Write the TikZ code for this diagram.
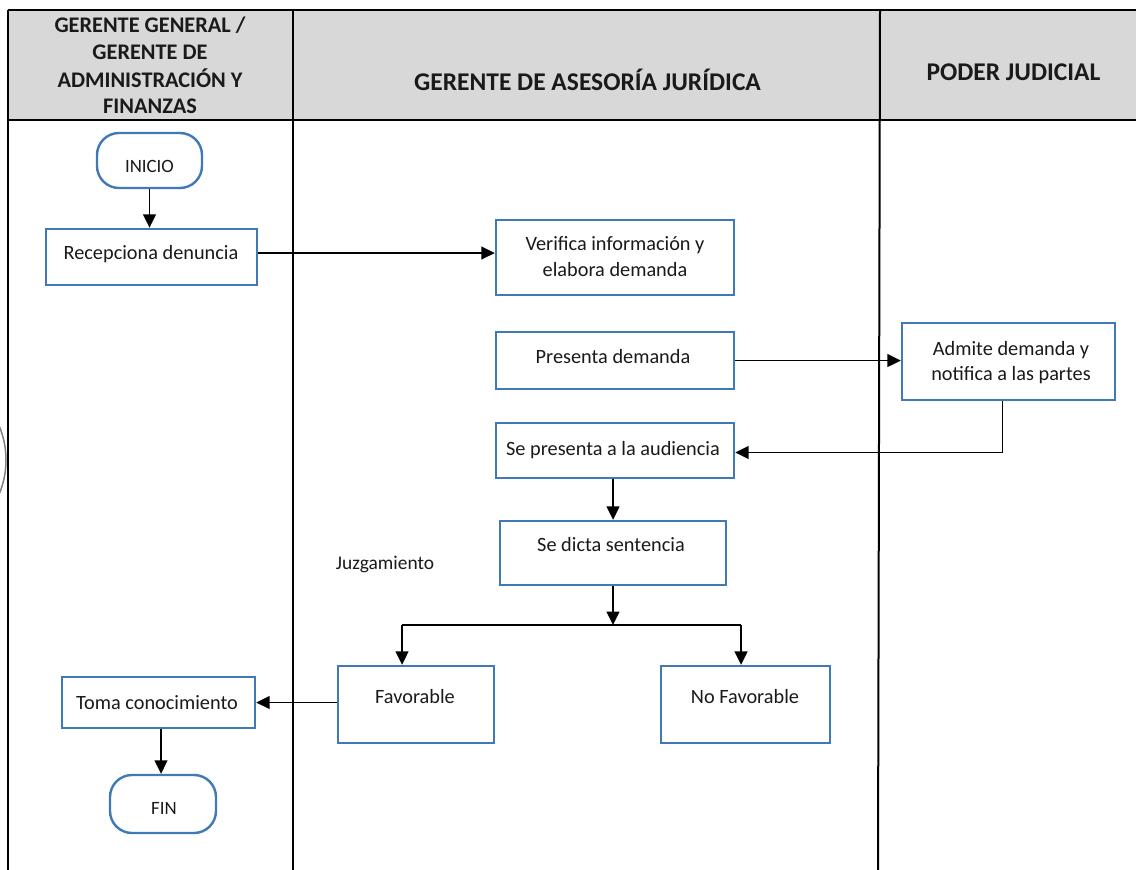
\documentclass[tikz,border=0pt]{standalone}
\usepackage{fontspec}
\setmainfont{Carlito}
\usetikzlibrary{arrows.meta}

\definecolor{boxblue}{HTML}{4079B6}
\definecolor{headgray}{HTML}{D8D8D8}
\definecolor{inkgray}{HTML}{1A1A1A}

\tikzset{
  lane/.style={line width=2pt, draw=black},
  headtxt/.style={font=\bfseries\fontsize{22.3}{27}\selectfont, align=center, text=inkgray, inner sep=0pt, anchor=base},
  bighead/.style={headtxt, font=\bfseries\fontsize{25.5}{30}\selectfont},
  procbox/.style={draw=boxblue, line width=2.4pt, fill=white, inner sep=0pt},
  termbox/.style={procbox, rounded corners=22pt},
  boxtxt/.style={font=\fontsize{20.3}{26}\selectfont, text=inkgray, align=center, inner sep=0pt, anchor=base},
  termtxt/.style={boxtxt, font=\fontsize{18.8}{24}\selectfont},
  conn/.style={line width=1.6pt, draw=black},
  arr/.style={conn, -{Triangle[length=13.5pt, width=13pt]}},
  note/.style={font=\fontsize{19.4}{24}\selectfont, text=inkgray, inner sep=0pt, anchor=base}
}

\begin{document}
\begin{tikzpicture}[x=1pt, y=-1pt]
\useasboundingbox (0,0) rectangle (1136,870);
\fill[white] (0,0) rectangle (1136,870);

% header band and lane dividers
\fill[headgray] (8,10) rectangle (1136,120);
\draw[lane] (8,10) -- (1136,10);
\draw[lane] (8,120) -- (1136,120);
\draw[lane] (8,10) -- (8,870);
\draw[lane] (293,10) -- (293,870);
\draw[lane] (880,10) -- (878,870);

% punched hole at the left margin
\draw[gray, line width=1.5pt] (-82,460) circle (88);

% lane titles (baselines given)
\node[headtxt] (h1a) at (150,32.5) {GERENTE GENERAL /};
\node[headtxt] (h1b) at (150,59) {GERENTE DE};
\node[headtxt] (h1c) at (150,87) {ADMINISTRACIÓN Y};
\node[headtxt] (h1d) at (150,113.5) {FINANZAS};
\node[bighead] (h2) at (587.5,90) {GERENTE DE ASESORÍA JURÍDICA};
\node[bighead] (h3) at (1013.5,80) {PODER JUDICIAL};

% flow step outlines
\node[termbox, minimum width=105pt, minimum height=55pt] (inicio) at (149.5,160.5) {};
\node[procbox, minimum width=211pt, minimum height=56pt] (recep) at (151.5,257) {};
\node[procbox, minimum width=238pt, minimum height=75pt] (verif) at (615,257.5) {};
\node[procbox, minimum width=238pt, minimum height=57pt] (pres) at (615,360.5) {};
\node[procbox, minimum width=213pt, minimum height=77pt] (admite) at (1008.5,361.5) {};
\node[procbox, minimum width=238pt, minimum height=55pt] (audi) at (615,450.5) {};
\node[procbox, minimum width=226pt, minimum height=64pt] (dicta) at (613,553) {};
\node[procbox, minimum width=156pt, minimum height=77pt] (fav) at (416,704.5) {};
\node[procbox, minimum width=169pt, minimum height=77pt] (nofav) at (745.5,704.5) {};
\node[procbox, minimum width=193pt, minimum height=51pt] (toma) at (158.5,702.5) {};
\node[termbox, minimum width=106pt, minimum height=58pt] (fin) at (163,804) {};

% step labels (baselines given)
\node[termtxt] (inicio-t) at (149.5,172) {INICIO};
\node[boxtxt] (recep-t) at (151,259.5) {Recepciona denuncia};
\node[boxtxt] (verif-t1) at (615,250) {Verifica información y};
\node[boxtxt] (verif-t2) at (615,276) {elabora demanda};
\node[boxtxt] (pres-t) at (613,363) {Presenta demanda};
\node[boxtxt] (admite-t1) at (1011,355) {Admite demanda y};
\node[boxtxt] (admite-t2) at (1011,380.5) {notifica a las partes};
\node[boxtxt] (audi-t) at (613,455) {Se presenta a la audiencia};
\node[boxtxt] (dicta-t) at (611,551) {Se dicta sentencia};
\node[boxtxt] (fav-t) at (415,703) {Favorable};
\node[boxtxt] (nofav-t) at (745,703) {No Favorable};
\node[boxtxt] (toma-t) at (157,709) {Toma conocimiento};
\node[termtxt] (fin-t) at (164,814) {FIN};

\node[note] (juzg) at (385,569) {Juzgamiento};

% connectors
\draw[arr] (inicio.south) -- (inicio.south |- recep.north);
\draw[arr] ([yshift=4pt]recep.east) -- ([yshift=4pt]recep.east -| verif.west);
\draw[arr] (pres.east) -- (pres.east -| admite.west);
\draw[arr] ([xshift=-6pt]admite.south) |- ([yshift=-2pt]audi.east);
\draw[arr] (dicta.north |- audi.south) -- (dicta.north);
\coordinate (split) at (613,625);
\coordinate (fl) at (402,625);
\coordinate (fr) at (741,625);
\draw[arr] (dicta.south) -- (split);
\draw[conn] (fl) -- (fr);
\draw[arr] (fl) -- (fl |- fav.north);
\draw[arr] (fr) -- (fr |- nofav.north);
\draw[arr] (fav.west |- toma.east) -- (toma.east);
\draw[arr] (161,0 |- toma.south) -- (161,0 |- fin.north);
\end{tikzpicture}
\end{document}
